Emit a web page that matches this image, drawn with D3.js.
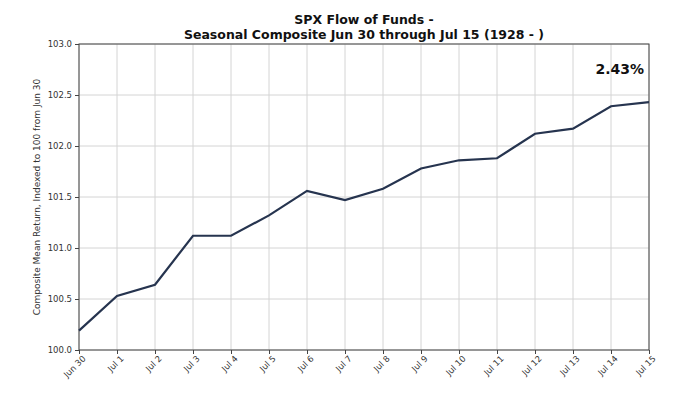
<!DOCTYPE html>
<html>
<head>
<meta charset="utf-8">
<script src="https://cdn.jsdelivr.net/npm/d3@7"></script>
<style>
  body { margin: 0; background: #fff; }
  text { font-family: "DejaVu Sans", sans-serif; }
</style>
</head>
<body>
<div id="chart"></div>
<script>
// Data
var days = ["Jun 30", "Jul 1", "Jul 2", "Jul 3", "Jul 4", "Jul 5", "Jul 6", "Jul 7",
            "Jul 8", "Jul 9", "Jul 10", "Jul 11", "Jul 12", "Jul 13", "Jul 14", "Jul 15"];
var values = [100.19, 100.53, 100.64, 101.12, 101.12, 101.32, 101.56, 101.47,
              101.58, 101.78, 101.86, 101.88, 102.12, 102.17, 102.39, 102.43];
var yTicks = [100.0, 100.5, 101.0, 101.5, 102.0, 102.5, 103.0];
var titleLines = ["SPX Flow of Funds -", "Seasonal Composite Jun 30 through Jul 15 (1928 - )"];
var annotation = "2.43%";

var W = 680, H = 393;
var margin = {top: 44, right: 31, bottom: 43, left: 79};
var width = W - margin.left - margin.right,
    height = H - margin.top - margin.bottom;

var svg = d3.select("#chart").append("svg")
    .attr("width", W).attr("height", H);

var g = svg.append("g")
    .attr("transform", "translate(" + margin.left + "," + margin.top + ")");

var x = d3.scalePoint().domain(days).range([0, width]);
var y = d3.scaleLinear().domain([100, 103]).range([height, 0]);

// grid
g.append("g").selectAll("line.vg")
    .data(days).enter().append("line")
    .attr("x1", function(d) { return x(d); })
    .attr("x2", function(d) { return x(d); })
    .attr("y1", 0).attr("y2", height)
    .style("stroke", "#d4d4d4").style("stroke-width", 1);

g.append("g").selectAll("line.hg")
    .data(yTicks).enter().append("line")
    .attr("x1", 0).attr("x2", width)
    .attr("y1", function(d) { return y(d); })
    .attr("y2", function(d) { return y(d); })
    .style("stroke", "#d4d4d4").style("stroke-width", 1);

// axes
var xAxis = g.append("g")
    .attr("transform", "translate(0," + height + ")")
    .call(d3.axisBottom(x).tickSize(4).tickPadding(3));
xAxis.selectAll("text")
    .style("text-anchor", "end")
    .attr("dx", "-0.2em").attr("dy", "0.5em")
    .attr("transform", "rotate(-45)");

var yAxis = g.append("g")
    .call(d3.axisLeft(y).tickValues(yTicks).tickFormat(d3.format(".1f")).tickSize(4).tickPadding(3));

[xAxis, yAxis].forEach(function(a) {
  a.select(".domain").remove();
  a.selectAll("line").style("stroke", "#444");
  a.selectAll("text").style("font-size", "8.5px").style("fill", "#333")
    .style("font-family", "DejaVu Sans, sans-serif");
});

// frame
g.append("rect")
    .attr("width", width).attr("height", height)
    .style("fill", "none").style("stroke", "#444").style("stroke-width", 1);

// line
var line = d3.line()
    .x(function(d, i) { return x(days[i]); })
    .y(function(d) { return y(d); });

g.append("path")
    .datum(values)
    .attr("d", line)
    .style("fill", "none")
    .style("stroke", "#26344f")
    .style("stroke-width", 2.2);

// annotation
g.append("text")
    .attr("x", width - 5).attr("y", 30)
    .style("text-anchor", "end")
    .style("font-size", "14px").style("font-weight", "bold")
    .style("fill", "#111")
    .text(annotation);

// title
svg.selectAll("text.title")
    .data(titleLines).enter().append("text")
    .attr("class", "title")
    .attr("x", margin.left + width / 2)
    .attr("y", function(d, i) { return 24 + i * 15; })
    .style("text-anchor", "middle")
    .style("font-size", "12.5px").style("font-weight", "bold")
    .style("fill", "#111")
    .text(function(d) { return d; });

// y label
svg.append("text")
    .attr("transform", "translate(40," + (margin.top + height / 2) + ") rotate(-90)")
    .style("text-anchor", "middle")
    .style("font-size", "9px")
    .style("fill", "#333")
    .text("Composite Mean Return, Indexed to 100 from Jun 30");
</script>
</body>
</html>
